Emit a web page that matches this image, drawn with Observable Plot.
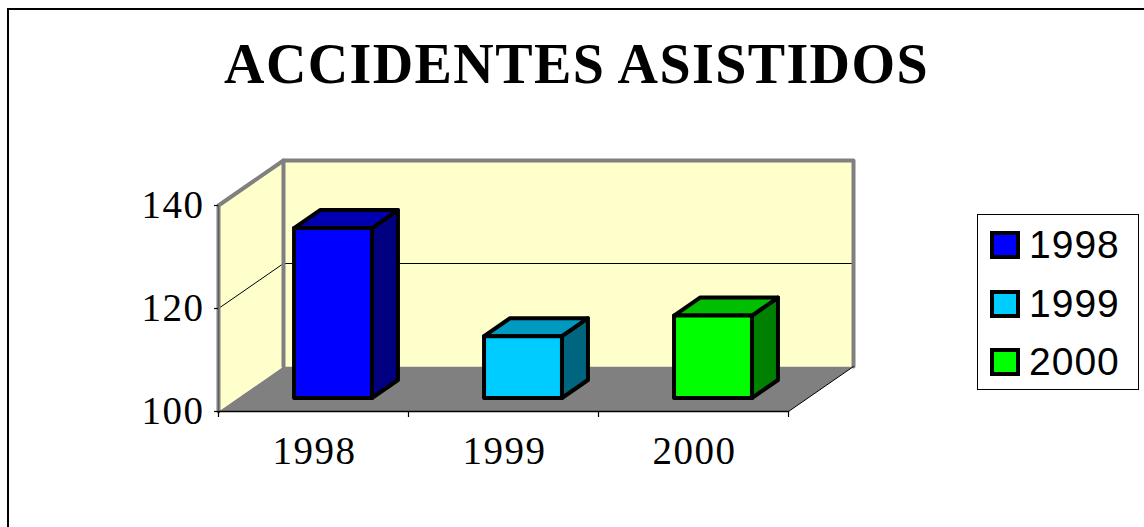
<!DOCTYPE html>
<html>
<head>
<meta charset="utf-8">
<script src="https://cdn.jsdelivr.net/npm/d3@7"></script>
<script src="https://cdn.jsdelivr.net/npm/@observablehq/plot@0.6"></script>
<style>
  html, body { margin: 0; padding: 0; background: white; }
  #wrap { position: relative; width: 1144px; height: 527px; overflow: hidden; background: white; }
  #wrap svg { position: absolute; left: 0; top: 0; }
  #border { position: absolute; left: 7px; top: 8px; width: 1200px; height: 600px; border: 2px solid black; box-sizing: border-box; pointer-events: none; }
  #legend { position: absolute; left: 977px; top: 214px; width: 162px; height: 176px; border: 1px solid black; box-sizing: border-box; background: white; font-family: "Liberation Sans", Arial, sans-serif; font-size: 39px; letter-spacing: 1px; }
  .item { position: absolute; left: 0; height: 40px; display: flex; align-items: center; }
  .sw { width: 22px; height: 20px; border: 4px solid black; margin-left: 12px; margin-right: 9px; }
</style>
</head>
<body>
<div id="wrap"></div>
<script>
// ---- data ----
const title = "ACCIDENTES ASISTIDOS";
const categories = ["1998", "1999", "2000"];
const values = [133, 112, 116];
const frontColors = ["#0000FF", "#00CCFF", "#00FF00"];
const topColors = ["#0000B0", "#0099BF", "#00BF00"];
const sideColors = ["#000080", "#006680", "#008000"];
const yTicks = [100, 120, 140];

// ---- 3D geometry (oblique projection in data units) ----
const yMin = 100, yMax = 140;
const nCat = categories.length;
const pxPerCat = 190, pxPerUnit = 206 / 40;
const KX = 65 / pxPerCat;      // full depth, x offset in category units
const KY = 45 / pxPerUnit;     // full depth, y offset in value units
const P = (c, t, v) => ({x: c + t * KX, y: v + t * KY});
const poly = (pts, opts) => Plot.line(pts, {x: "x", y: "y", curve: "linear-closed", ...opts});
const path = (pts, opts) => Plot.line(pts, {x: "x", y: "y", fill: "none", ...opts});

const marks = [];
// floor
marks.push(poly([P(0,0,yMin), P(0,1,yMin), P(nCat,1,yMin), P(nCat,0,yMin)], {fill: "#808080", stroke: "none"}));
// back wall
marks.push(poly([P(0,1,yMin), P(0,1,yMax), P(nCat,1,yMax), P(nCat,1,yMin)], {fill: "#FFFFCC", stroke: "none"}));
// left wall
marks.push(poly([P(0,0,yMin), P(0,0,yMax), P(0,1,yMax), P(0,1,yMin)], {fill: "#FFFFCC", stroke: "none"}));
// gridlines (inner ticks)
for (const v of yTicks.filter(v => v > yMin && v < yMax)) {
  marks.push(path([P(0,0,v), P(0,1,v), P(nCat,1,v)], {stroke: "black", strokeWidth: 1}));
}
// wall edges (gray)
marks.push(path([P(0,0,yMin), P(0,0,yMax), P(0,1,yMax), P(nCat,1,yMax), P(nCat,1,yMin)], {stroke: "#808080", strokeWidth: 4, strokeLinejoin: "round"}));
marks.push(path([P(0,1,yMax), P(0,1,yMin)], {stroke: "#808080", strokeWidth: 4}));
// floor edges
marks.push(path([P(nCat,0,yMin), P(nCat,1,yMin)], {stroke: "black", strokeWidth: 1}));
marks.push(path([P(0,0,yMin), P(nCat,0,yMin)], {stroke: "black", strokeWidth: 1.5}));
marks.push(path([P(0,0,yMin), P(0,0,yMax)], {stroke: "#606060", strokeWidth: 1}));
// y ticks + labels
marks.push(Plot.ruleY(yTicks, {y: d => d, x1: () => -4 / pxPerCat, x2: () => 0, stroke: "black", strokeWidth: 1.2}));
marks.push(Plot.text(yTicks, {x: () => 0, y: d => d, text: d => String(d), textAnchor: "end", dx: -14, fontSize: 39, fontFamily: "Liberation Serif", fill: "black"}));
// x ticks + labels
marks.push(Plot.ruleX(d3.range(nCat + 1), {x: d => d, y1: () => yMin, y2: () => yMin - 6 / pxPerUnit, stroke: "black", strokeWidth: 1.2}));
marks.push(Plot.text(categories, {x: (d, i) => i + 0.5, y: () => yMin, dy: 40, dx: 1, text: d => d, fontSize: 39, fontFamily: "Liberation Serif", fill: "black"}));

// bars
const a0 = 0.295, b0 = 0.705, t0 = 0.3, t1 = 0.7;
values.forEach((v, i) => {
  const a = i + a0, b = i + b0;
  const bar = {stroke: "black", strokeWidth: 4, strokeLinejoin: "round"};
  marks.push(poly([P(b,t0,yMin), P(b,t1,yMin), P(b,t1,v), P(b,t0,v)], {...bar, fill: sideColors[i]}));
  marks.push(poly([P(a,t0,v), P(b,t0,v), P(b,t1,v), P(a,t1,v)], {...bar, fill: topColors[i]}));
  marks.push(poly([P(a,t0,yMin), P(a,t0,v), P(b,t0,v), P(b,t0,yMin)], {...bar, fill: frontColors[i]}));
});

// title
marks.push(Plot.text([title], {frameAnchor: "top", dx: 4, dy: 43, lineAnchor: "top", text: d => d, fontSize: 56, fontWeight: "bold", fontFamily: "Liberation Serif", fill: "black"}));

const chart = Plot.plot({
  width: 1144,
  height: 527,
  margin: 0,
  x: {type: "linear", domain: [0, nCat], range: [218, 788], axis: null},
  y: {type: "linear", domain: [yMin, yMax], range: [411, 205], axis: null},
  style: {background: "transparent", overflow: "visible"},
  marks
});
chart.querySelectorAll("text").forEach(t => {
  if (t.textContent === title) t.setAttribute("letter-spacing", "1.4");
  else if (categories.includes(t.textContent) || yTicks.map(String).includes(t.textContent)) t.setAttribute("letter-spacing", "1.5");
});

const wrap = document.getElementById("wrap");
wrap.appendChild(chart);
const border = document.createElement("div");
border.id = "border";
wrap.appendChild(border);
const legend = document.createElement("div");
legend.id = "legend";
categories.forEach((c, i) => {
  const it = document.createElement("div");
  it.className = "item";
  it.style.top = (10 + i * 58.5) + "px";
  const sw = document.createElement("div");
  sw.className = "sw";
  sw.style.background = frontColors[i];
  const tx = document.createElement("span");
  tx.textContent = c;
  it.appendChild(sw);
  it.appendChild(tx);
  legend.appendChild(it);
});
wrap.appendChild(legend);
</script>
</body>
</html>
